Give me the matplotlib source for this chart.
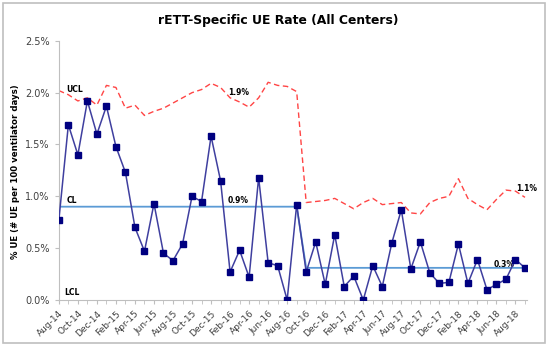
import numpy as np
import matplotlib
matplotlib.use('Agg')
import matplotlib.pyplot as plt
from matplotlib.patches import Rectangle

# monthly data, Aug-14 .. Sep-18
months = ['Aug-14', 'Sep-14', 'Oct-14', 'Nov-14', 'Dec-14', 'Jan-15', 'Feb-15', 'Mar-15',
          'Apr-15', 'May-15', 'Jun-15', 'Jul-15', 'Aug-15', 'Sep-15', 'Oct-15', 'Nov-15',
          'Dec-15', 'Jan-16', 'Feb-16', 'Mar-16', 'Apr-16', 'May-16', 'Jun-16', 'Jul-16',
          'Aug-16', 'Sep-16', 'Oct-16', 'Nov-16', 'Dec-16', 'Jan-17', 'Feb-17', 'Mar-17',
          'Apr-17', 'May-17', 'Jun-17', 'Jul-17', 'Aug-17', 'Sep-17', 'Oct-17', 'Nov-17',
          'Dec-17', 'Jan-18', 'Feb-18', 'Mar-18', 'Apr-18', 'May-18', 'Jun-18', 'Jul-18',
          'Aug-18', 'Sep-18']
ue_rate = [0.77, 1.69, 1.40, 1.92, 1.60, 1.87, 1.48, 1.23, 0.70, 0.47,
           0.93, 0.45, 0.38, 0.54, 1.00, 0.95, 1.58, 1.15, 0.27, 0.48,
           0.22, 1.18, 0.36, 0.33, 0.00, 0.92, 0.27, 0.56, 0.15, 0.63,
           0.13, 0.23, 0.00, 0.33, 0.13, 0.55, 0.87, 0.30, 0.56, 0.26,
           0.16, 0.17, 0.54, 0.16, 0.39, 0.10, 0.15, 0.20, 0.39, 0.31]
ucl = [2.02, 1.98, 1.92, 1.95, 1.88, 2.07, 2.05, 1.85, 1.88, 1.78,
       1.82, 1.85, 1.90, 1.95, 2.00, 2.03, 2.09, 2.05, 1.95, 1.91,
       1.86, 1.95, 2.10, 2.07, 2.06, 2.01, 0.94, 0.95, 0.96, 0.98,
       0.93, 0.88, 0.94, 0.98, 0.92, 0.93, 0.94, 0.84, 0.83, 0.94,
       0.98, 1.00, 1.17, 0.98, 0.92, 0.87, 0.97, 1.06, 1.05, 0.99]
cl = [0.90] * 26 + [0.31] * 24
lcl = [0.0] * 50

x = np.arange(len(months))

fig = plt.figure(figsize=(5.5, 3.46), dpi=100)
ax = fig.add_axes([0.107, 0.133, 0.851, 0.749])

ax.plot(x, ucl, '--', color='#FF4545', lw=1.0, dashes=(4, 2.5))
ax.plot(x, cl, '-', color='#5B9BD5', lw=1.3)
ax.plot(x, lcl, '-', color='#5B9BD5', lw=0.0)
ax.plot(x, ue_rate, '-', color='#3F3F9F', lw=1.1, marker='s', ms=4.5,
        mfc='#000080', mec='#000080', zorder=5)

## labels on the chart
ax.text(1.7, 2.03, 'UCL', fontsize=5.5, fontweight='bold', ha='center', va='center')
ax.text(1.36, 0.955, 'CL', fontsize=5.5, fontweight='bold', ha='center', va='center')
ax.text(1.36, 0.07, 'LCL', fontsize=5.5, fontweight='bold', ha='center', va='center')
ax.text(18.9, 2.0, '1.9%', fontsize=5.5, fontweight='bold', ha='center', va='center')
ax.text(18.8, 0.96, '0.9%', fontsize=5.5, fontweight='bold', ha='center', va='center')
ax.text(49.2, 1.075, '1.1%', fontsize=5.5, fontweight='bold', ha='center', va='center')
ax.text(46.8, 0.338, '0.3%', fontsize=5.5, fontweight='bold', ha='center', va='center')

## axis config
ax.set_xlim(0, 49.2)
ax.set_ylim(0, 2.5)
ax.set_yticks(np.arange(0, 2.51, 0.5))
ax.set_yticklabels(['%.1f%%' % v for v in np.arange(0, 2.51, 0.5)], fontsize=7, color='#404040')
ax.set_xticks(x[::2])
ax.set_xticklabels(months[::2], rotation=45, ha='right', rotation_mode='anchor',
                   fontsize=6.5, color='#404040')
ax.set_xticks(x, minor=True)
ax.tick_params(axis='x', which='both', length=3, color='#BFBFBF')
ax.tick_params(axis='y', length=3, color='#BFBFBF')
for s in ['top', 'right']:
    ax.spines[s].set_visible(False)
for s in ['left', 'bottom']:
    ax.spines[s].set_color('#BFBFBF')
ax.set_ylabel('% UE (# UE per 100 ventilator days)', fontsize=6.2, fontweight='bold')
ax.yaxis.set_label_coords(-0.083, 0.496)

fig.text(0.505, 0.942, 'rETT-Specific UE Rate (All Centers)', fontsize=8.9, fontweight='bold',
         ha='center', va='center')

# chart border
fig.patches.append(Rectangle((0.006, 0.008), 0.985, 0.983, transform=fig.transFigure,
                             fill=False, edgecolor='#BFBFBF', lw=1.2))

fig.savefig('out.png', dpi=100)
